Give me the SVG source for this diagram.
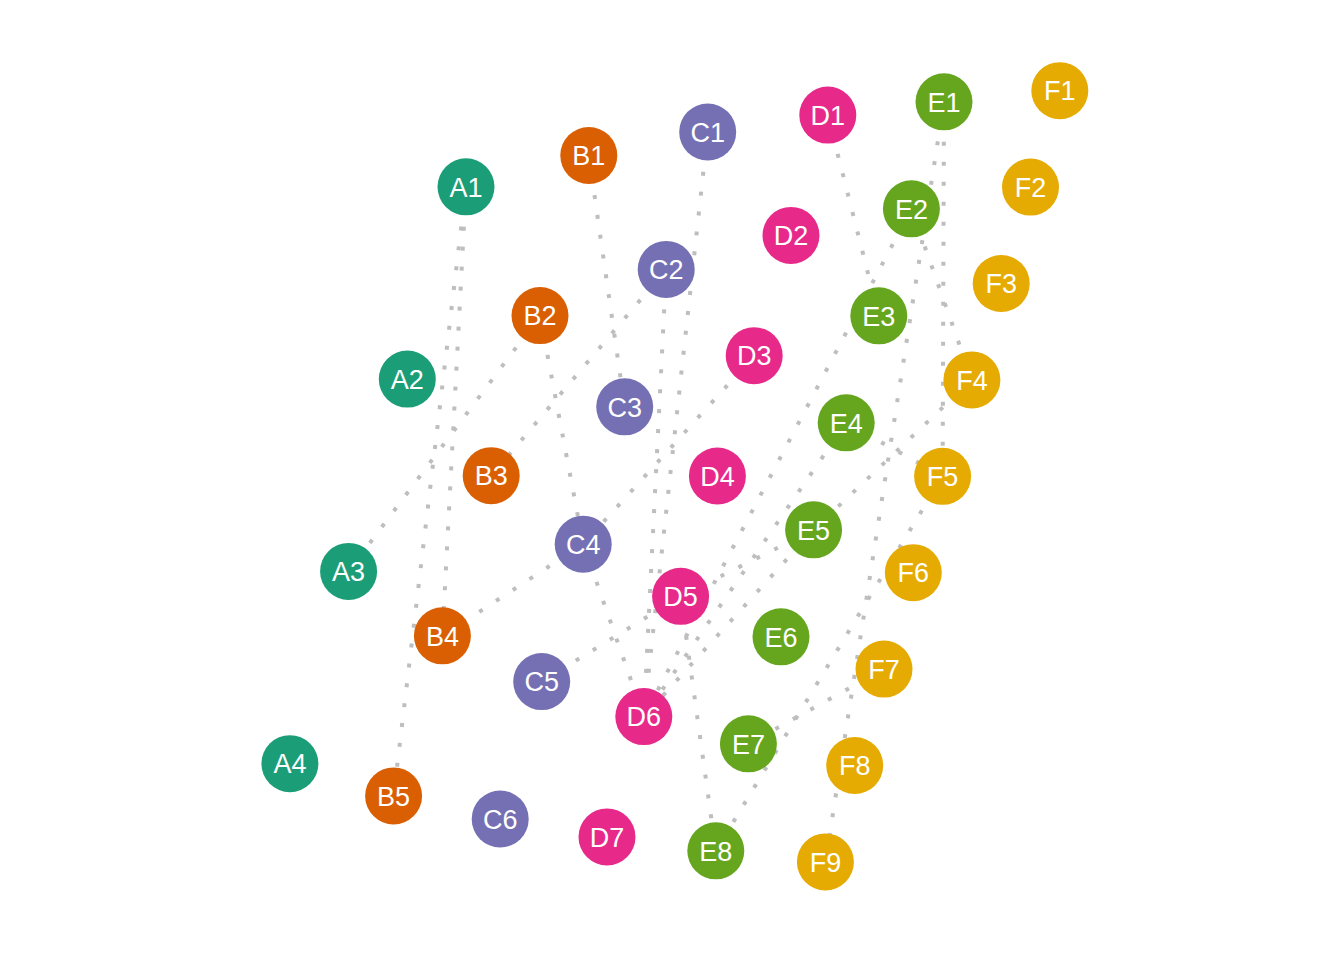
<svg xmlns="http://www.w3.org/2000/svg" width="1344" height="960" viewBox="0 0 1344 960">
<style>
.e{stroke:#BEBEBE;stroke-width:4;stroke-dasharray:4 16;fill:none}
.n text{font-family:"Liberation Sans",Arial,sans-serif;font-size:27px;fill:#FFFFFF;text-anchor:middle}
.a circle{fill:#1B9E77}.b circle{fill:#D95F02}.c circle{fill:#7570B3}
.d circle{fill:#E7298A}.ee circle{fill:#66A61E}.f circle{fill:#E6AB02}
</style>
<rect width="1344" height="960" fill="#FFFFFF"/>
<g id="connectors">
<line class="e" x1="466" y1="186.8" x2="442.4" y2="635.8"/>
<line class="e" x1="466" y1="186.8" x2="393.6" y2="795.9"/>
<line class="e" x1="540" y1="315.6" x2="348.6" y2="571.4"/>
<line class="e" x1="540" y1="315.6" x2="583.2" y2="544.2"/>
<line class="e" x1="588.8" y1="155.5" x2="624.7" y2="406.8"/>
<line class="e" x1="583.2" y1="544.2" x2="442.4" y2="635.8"/>
<line class="e" x1="666.2" y1="269.4" x2="491.2" y2="475.7"/>
<line class="e" x1="707.7" y1="132" x2="643.8" y2="716.6"/>
<line class="e" x1="666.2" y1="269.4" x2="643.8" y2="716.6"/>
<line class="e" x1="583.2" y1="544.2" x2="643.8" y2="716.6"/>
<line class="e" x1="754.2" y1="355.7" x2="583.2" y2="544.2"/>
<line class="e" x1="541.7" y1="681.6" x2="680.6" y2="596.3"/>
<line class="e" x1="680.6" y1="596.3" x2="715.8" y2="850.8"/>
<line class="e" x1="827.8" y1="115.1" x2="878.8" y2="315.8"/>
<line class="e" x1="911.4" y1="208.8" x2="643.8" y2="716.6"/>
<line class="e" x1="846.2" y1="422.8" x2="643.8" y2="716.6"/>
<line class="e" x1="813.6" y1="529.8" x2="643.8" y2="716.6"/>
<line class="e" x1="813.6" y1="529.8" x2="680.6" y2="596.3"/>
<line class="e" x1="944" y1="101.8" x2="942.6" y2="476.3"/>
<line class="e" x1="944" y1="101.8" x2="825.4" y2="861.9"/>
<line class="e" x1="911.4" y1="208.8" x2="971.9" y2="379.9"/>
<line class="e" x1="971.9" y1="379.9" x2="813.6" y2="529.8"/>
<line class="e" x1="846.2" y1="422.8" x2="942.6" y2="476.3"/>
<line class="e" x1="942.6" y1="476.3" x2="715.8" y2="850.8"/>
<line class="e" x1="884" y1="669.1" x2="748.4" y2="743.8"/>
</g>
<g id="A1" class="n a"><circle cx="466" cy="186.8" r="28.5"/><text x="466" y="196.5">A1</text></g>
<g id="A2" class="n a"><circle cx="407.3" cy="379.1" r="28.5"/><text x="407.3" y="388.8">A2</text></g>
<g id="A3" class="n a"><circle cx="348.6" cy="571.4" r="28.5"/><text x="348.6" y="581.1">A3</text></g>
<g id="A4" class="n a"><circle cx="289.9" cy="763.7" r="28.5"/><text x="289.9" y="773.4">A4</text></g>
<g id="B1" class="n b"><circle cx="588.8" cy="155.5" r="28.5"/><text x="588.8" y="165.2">B1</text></g>
<g id="B2" class="n b"><circle cx="540" cy="315.6" r="28.5"/><text x="540" y="325.3">B2</text></g>
<g id="B3" class="n b"><circle cx="491.2" cy="475.7" r="28.5"/><text x="491.2" y="485.4">B3</text></g>
<g id="B4" class="n b"><circle cx="442.4" cy="635.8" r="28.5"/><text x="442.4" y="645.5">B4</text></g>
<g id="B5" class="n b"><circle cx="393.6" cy="795.9" r="28.5"/><text x="393.6" y="805.6">B5</text></g>
<g id="C1" class="n c"><circle cx="707.7" cy="132" r="28.5"/><text x="707.7" y="141.7">C1</text></g>
<g id="C2" class="n c"><circle cx="666.2" cy="269.4" r="28.5"/><text x="666.2" y="279.1">C2</text></g>
<g id="C3" class="n c"><circle cx="624.7" cy="406.8" r="28.5"/><text x="624.7" y="416.5">C3</text></g>
<g id="C4" class="n c"><circle cx="583.2" cy="544.2" r="28.5"/><text x="583.2" y="553.9">C4</text></g>
<g id="C5" class="n c"><circle cx="541.7" cy="681.6" r="28.5"/><text x="541.7" y="691.3">C5</text></g>
<g id="C6" class="n c"><circle cx="500.2" cy="819" r="28.5"/><text x="500.2" y="828.7">C6</text></g>
<g id="D1" class="n d"><circle cx="827.8" cy="115.1" r="28.5"/><text x="827.8" y="124.8">D1</text></g>
<g id="D2" class="n d"><circle cx="791" cy="235.4" r="28.5"/><text x="791" y="245.1">D2</text></g>
<g id="D3" class="n d"><circle cx="754.2" cy="355.7" r="28.5"/><text x="754.2" y="365.4">D3</text></g>
<g id="D4" class="n d"><circle cx="717.4" cy="476" r="28.5"/><text x="717.4" y="485.7">D4</text></g>
<g id="D5" class="n d"><circle cx="680.6" cy="596.3" r="28.5"/><text x="680.6" y="606">D5</text></g>
<g id="D6" class="n d"><circle cx="643.8" cy="716.6" r="28.5"/><text x="643.8" y="726.3">D6</text></g>
<g id="D7" class="n d"><circle cx="607" cy="836.9" r="28.5"/><text x="607" y="846.6">D7</text></g>
<g id="E1" class="n ee"><circle cx="944" cy="101.8" r="28.5"/><text x="944" y="111.5">E1</text></g>
<g id="E2" class="n ee"><circle cx="911.4" cy="208.8" r="28.5"/><text x="911.4" y="218.5">E2</text></g>
<g id="E3" class="n ee"><circle cx="878.8" cy="315.8" r="28.5"/><text x="878.8" y="325.5">E3</text></g>
<g id="E4" class="n ee"><circle cx="846.2" cy="422.8" r="28.5"/><text x="846.2" y="432.5">E4</text></g>
<g id="E5" class="n ee"><circle cx="813.6" cy="529.8" r="28.5"/><text x="813.6" y="539.5">E5</text></g>
<g id="E6" class="n ee"><circle cx="781" cy="636.8" r="28.5"/><text x="781" y="646.5">E6</text></g>
<g id="E7" class="n ee"><circle cx="748.4" cy="743.8" r="28.5"/><text x="748.4" y="753.5">E7</text></g>
<g id="E8" class="n ee"><circle cx="715.8" cy="850.8" r="28.5"/><text x="715.8" y="860.5">E8</text></g>
<g id="F1" class="n f"><circle cx="1059.8" cy="90.7" r="28.5"/><text x="1059.8" y="100.4">F1</text></g>
<g id="F2" class="n f"><circle cx="1030.5" cy="187.1" r="28.5"/><text x="1030.5" y="196.8">F2</text></g>
<g id="F3" class="n f"><circle cx="1001.2" cy="283.5" r="28.5"/><text x="1001.2" y="293.2">F3</text></g>
<g id="F4" class="n f"><circle cx="971.9" cy="379.9" r="28.5"/><text x="971.9" y="389.6">F4</text></g>
<g id="F5" class="n f"><circle cx="942.6" cy="476.3" r="28.5"/><text x="942.6" y="486">F5</text></g>
<g id="F6" class="n f"><circle cx="913.3" cy="572.7" r="28.5"/><text x="913.3" y="582.4">F6</text></g>
<g id="F7" class="n f"><circle cx="884" cy="669.1" r="28.5"/><text x="884" y="678.8">F7</text></g>
<g id="F8" class="n f"><circle cx="854.7" cy="765.5" r="28.5"/><text x="854.7" y="775.2">F8</text></g>
<g id="F9" class="n f"><circle cx="825.4" cy="861.9" r="28.5"/><text x="825.4" y="871.6">F9</text></g>
</svg>
